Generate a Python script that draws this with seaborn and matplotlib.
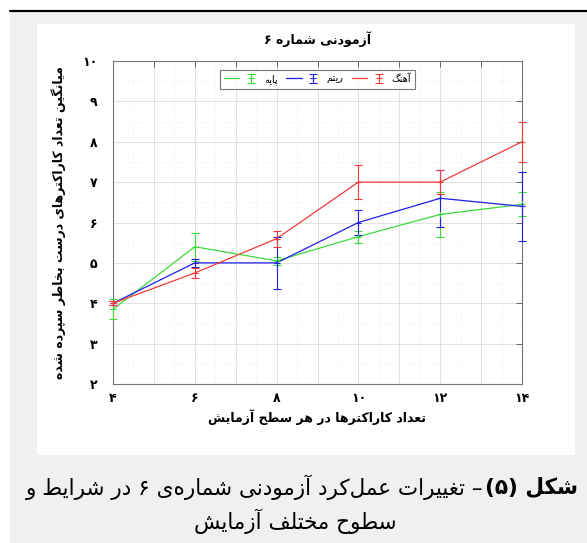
import matplotlib
matplotlib.use("Agg")
import matplotlib.pyplot as plt
import seaborn as sns
import pandas as pd
from matplotlib.patches import Rectangle
from matplotlib.lines import Line2D
from matplotlib.legend_handler import HandlerTuple

# values (mean +/- error per level)
x_levels = [4, 6, 8, 10, 12, 14]
base_mean = [3.85, 5.4, 5.05, 5.65, 6.2, 6.45]
base_err = [0.25, 0.35, 0.1, 0.15, 0.55, 0.3]
rhythm_mean = [4.0, 5.0, 5.0, 6.0, 6.6, 6.4]
rhythm_err = [0.05, 0.1, 0.65, 0.3, 0.7, 0.85]
melody_mean = [4.0, 4.75, 5.6, 7.0, 7.0, 8.0]
melody_err = [0.05, 0.12, 0.2, 0.43, 0.3, 0.5]
series_names = ['پایه', 'ریتم', 'آهنگ']
series_colors = ['#3ada3a', '#1f1fe6', '#f23a3a']
x_ticks = list(range(4, 15))
y_ticks = list(range(2, 11))

title_text = 'آزمودنی شماره ۶'
xlabel_text = 'تعداد کاراکترها در هر سطح آزمایش'
ylabel_text = 'میانگین تعداد کاراکترهای درست بخاطر سپرده شده'
caption_bold = 'شکل (۵)'
caption_rest = '– تغییرات عمل\u200cکرد آزمودنی شماره\u200cی ۶ در شرایط و'
caption_line2 = 'سطوح مختلف آزمایش'

# minimal persian shaping: matplotlib does not join arabic letters itself
dual = {'ب': 0xFE8F, 'ت': 0xFE95, 'ث': 0xFE99, 'ج': 0xFE9D, 'ح': 0xFEA1, 'خ': 0xFEA5,
        'س': 0xFEB1, 'ش': 0xFEB5, 'ص': 0xFEB9, 'ض': 0xFEBD, 'ط': 0xFEC1, 'ظ': 0xFEC5,
        'ع': 0xFEC9, 'غ': 0xFECD, 'ف': 0xFED1, 'ق': 0xFED5, 'ل': 0xFEDD, 'م': 0xFEE1,
        'ن': 0xFEE5, 'ه': 0xFEE9, 'ی': 0xFBFC, 'پ': 0xFB56, 'چ': 0xFB7A, 'ک': 0xFB8E,
        'گ': 0xFB92}
right = {'ا': 0xFE8D, 'آ': 0xFE81, 'د': 0xFEA9, 'ذ': 0xFEAB, 'ر': 0xFEAD, 'ز': 0xFEAF,
         'ژ': 0xFB8A, 'و': 0xFEED}
digits = set('0123456789۰۱۲۳۴۵۶۷۸۹')
fa_digits = str.maketrans('0123456789', '۰۱۲۳۴۵۶۷۸۹')


def shape(s):
    out = []
    for i, c in enumerate(s):
        if c in dual or c in right:
            p = s[i - 1] if i > 0 else ''
            n = s[i + 1] if i + 1 < len(s) else ''
            jp = p in dual
            jn = c in dual and (n in dual or n in right)
            k = (3 if jp else 2) if jn else (1 if jp else 0)
            out.append(chr(dual.get(c, right.get(c)) + k))
        elif c != '\u200c':
            out.append(c)
    out = out[::-1]
    # put digit runs back in reading order, mirror brackets
    res, run = [], []
    for c in out + ['']:
        if c in digits and c != '':
            run.append(c)
            continue
        res += run[::-1]
        run = []
        res.append({'(': ')', ')': '('}.get(c, c))
    return ''.join(res)


sns.set_theme(style='whitegrid')
plt.rcParams['font.family'] = ['DejaVu Sans']
plt.rcParams.update({'text.color': 'black', 'axes.labelcolor': 'black',
                     'xtick.color': 'black', 'ytick.color': 'black'})

W, H = 587, 543
fig = plt.figure(figsize=(W / 100, H / 100), dpi=100, facecolor='white')


def box(x0, y0, x1, y1, color):
    fig.add_artist(Rectangle((x0 / W, 1 - y1 / H), (x1 - x0) / W, (y1 - y0) / H,
                             transform=fig.transFigure, facecolor=color,
                             edgecolor='none', zorder=-10))


box(10, 12, W, H, '#f0f0f0')
box(37, 24, 575, 455, 'white')
fig.add_artist(Line2D([10 / W, 1], [1 - 11 / H] * 2, color='black', lw=1.6,
                      transform=fig.transFigure))

ax = fig.add_axes([113 / W, 1 - 384 / H, 409 / W, 323 / H])
ax.set_facecolor('white')

df = pd.DataFrame({
    'level': x_levels * 3,
    'score': base_mean + rhythm_mean + melody_mean,
    'cond': [series_names[0]] * 6 + [series_names[1]] * 6 + [series_names[2]] * 6,
})
sns.lineplot(data=df, x='level', y='score', hue='cond', errorbar=None,
             palette=dict(zip(series_names, series_colors)), lw=0.9,
             legend=False, ax=ax, zorder=3)

handles = []
for m, e, c in zip([base_mean, rhythm_mean, melody_mean],
                   [base_err, rhythm_err, melody_err], series_colors):
    eb = ax.errorbar(x_levels, m, yerr=e, fmt='+', color=c, ms=5, mew=0.8,
                     elinewidth=0.8, capsize=3, capthick=0.8, zorder=4)
    for a in eb.get_children():
        a.set_clip_on(False)
    handles.append((Line2D([], [], color=c, lw=0.9), eb))

leg = ax.legend(handles, [shape(n) for n in series_names], ncol=3,
                loc='upper center', bbox_to_anchor=(0.5, 1 - 9 / 323),
                borderaxespad=0, fontsize=7, frameon=True, fancybox=False,
                handlelength=3.6, columnspacing=0.9, handletextpad=0.5,
                handler_map={tuple: HandlerTuple(ndivide=None)})
leg.get_frame().set_edgecolor('#555555')
leg.get_frame().set_linewidth(0.8)

ax.set_xlim(4, 14)
ax.set_ylim(2, 10)
ax.set_xticks(x_ticks)
ax.set_xticklabels([str(t).translate(fa_digits) if t % 2 == 0 else '' for t in x_ticks],
                   fontweight='bold', fontsize=9)
ax.set_yticks(y_ticks)
ax.set_yticklabels([str(t).translate(fa_digits) for t in y_ticks],
                   fontweight='bold', fontsize=9)
ax.set_xticks([t + 0.5 for t in x_ticks[:-1]], minor=True)
ax.set_yticks([t + 0.5 for t in y_ticks[:-1]], minor=True)
ax.grid(True, which='major', color='#dcdcdc', lw=0.6, ls='-')
ax.grid(True, which='minor', color='#e8e8e8', lw=0.5, ls=':')
ax.tick_params(which='major', direction='in', length=4, width=0.7, color='#666666',
               top=True, right=True)
ax.tick_params(axis='x', which='major', pad=6)
ax.tick_params(axis='y', which='major', pad=11)
ax.tick_params(which='minor', length=0)
for s in ax.spines.values():
    s.set_color('#777777')
    s.set_linewidth(0.8)
    s.set_visible(True)

ax.set_title(shape(title_text), fontsize=9, fontweight='bold', pad=12)
ax.set_xlabel(shape(xlabel_text), fontsize=9, fontweight='bold', labelpad=3)
ax.set_ylabel(shape(ylabel_text), fontsize=9, fontweight='bold', labelpad=12)

r = fig.canvas.get_renderer()
t1 = fig.text(578 / W, 1 - 487 / H, shape(caption_bold), ha='right', va='center',
              fontsize=15.5, fontweight='bold', color='black')
bb = t1.get_window_extent(r)
fig.text((bb.x0 - 2) / W, 1 - 487 / H, shape(caption_rest), ha='right', va='center',
         fontsize=15.5, color='black')
fig.text(295 / W, 1 - 521 / H, shape(caption_line2), ha='center', va='center',
         fontsize=15.5, color='black')

fig.savefig('out.png', dpi=100)
